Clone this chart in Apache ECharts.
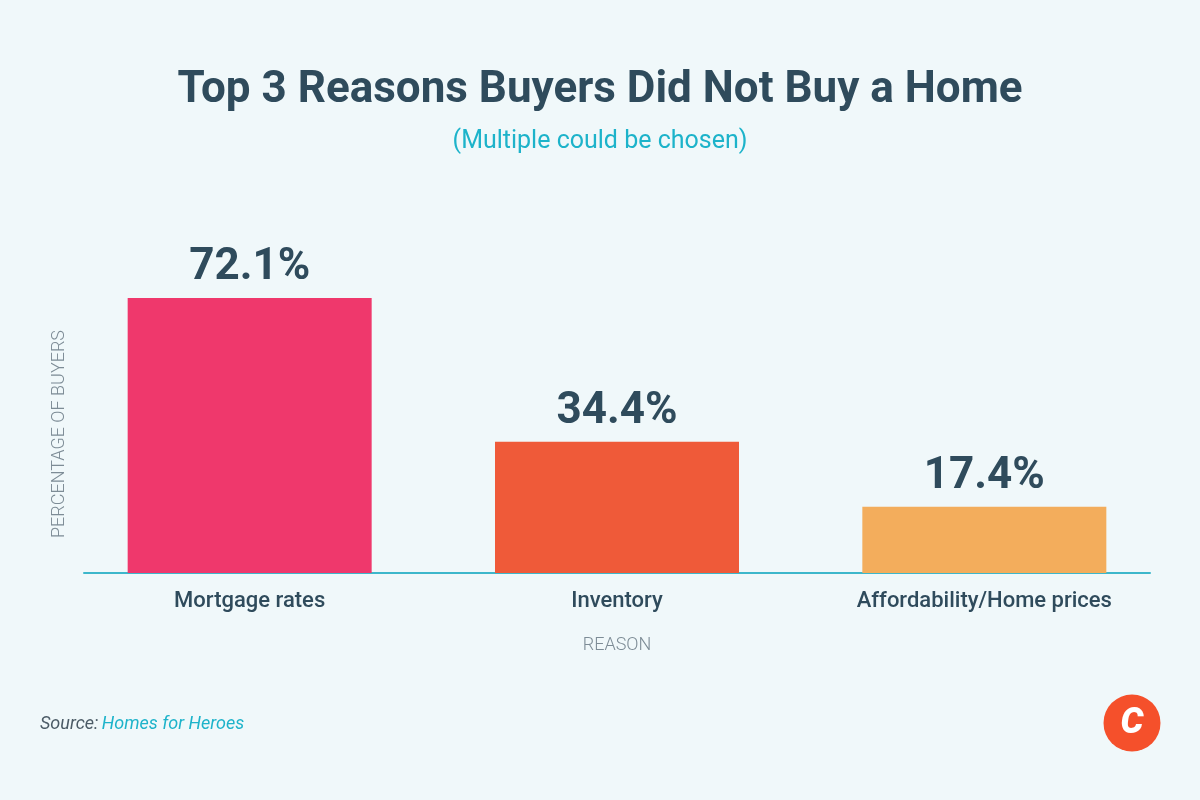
<!DOCTYPE html>
<html>
<head>
<meta charset="utf-8">
<script src="https://cdn.jsdelivr.net/npm/echarts@6/dist/echarts.min.js"></script>
<style>
html,body{margin:0;padding:0;background:#f0f8fa;}
#chart{width:1200px;height:800px;}
</style>
</head>
<body>
<div id="chart"></div>
<script>
const categories = ['Mortgage rates', 'Inventory', 'Affordability/Home prices'];
const values = [72.1, 34.4, 17.4];
const barColors = ['#ef386c', '#ef5a39', '#f3ad5c'];
const titleText = 'Top 3 Reasons Buyers Did Not Buy a Home';
const subtitleText = '(Multiple could be chosen)';
const yAxisName = 'PERCENTAGE OF BUYERS';
const xAxisName = 'REASON';
const sourceLabel = 'Source:';
const sourceName = 'Homes for Heroes';

const dark = '#2f4b5c';
const teal = '#1db3ca';
const grey = '#7d8c96';
const font = 'Roboto';

const chart = echarts.init(document.getElementById('chart'));
chart.setOption({
  backgroundColor: '#f0f8fa',
  textStyle: { fontFamily: font },
  title: [
    { text: titleText, left: 'center', top: 64,
      textStyle: { fontFamily: font, fontSize: 44, fontWeight: 'bold', color: dark } },
    { text: subtitleText, left: 'center', top: 124,
      textStyle: { fontFamily: font, fontSize: 25, fontWeight: 'normal', color: teal } }
  ],
  grid: [
    { left: 66, right: 32, top: 268, bottom: 227 },
    { left: 84, right: 50, top: 268, bottom: 227 }
  ],
  xAxis: [
    { type: 'category', data: categories, gridIndex: 0,
      axisLine: { show: false }, axisTick: { show: false },
      axisLabel: { margin: 17, fontSize: 22, fontWeight: 500, color: dark, fontFamily: font },
      name: xAxisName, nameLocation: 'middle', nameGap: 63,
      nameTextStyle: { fontSize: 18, fontWeight: 300, color: grey, fontFamily: font } },
    { type: 'value', gridIndex: 1, min: 0, max: 1,
      axisLine: { show: true, onZero: false, lineStyle: { color: '#3db7cb', width: 2 } },
      axisTick: { show: false }, axisLabel: { show: false }, splitLine: { show: false } }
  ],
  yAxis: [
    { type: 'value', gridIndex: 0, min: 0, max: 80, show: false },
    { type: 'value', gridIndex: 1, min: 0, max: 1, show: false }
  ],
  series: [{
    type: 'bar',
    xAxisIndex: 0, yAxisIndex: 0,
    data: values,
    colorBy: 'data',
    color: barColors,
    barWidth: 244,
    label: {
      show: true, position: 'top', distance: 8,
      formatter: p => p.value + '%',
      fontFamily: font, fontSize: 44, fontWeight: 'bold', color: dark
    }
  }],
  graphic: [
    { type: 'text', x: 59, y: 434, rotation: Math.PI / 2,
      style: { text: yAxisName, fontFamily: font, fontSize: 18, fontWeight: 300, fill: grey,
        align: 'center', verticalAlign: 'middle' } },
    { type: 'text', x: 40, y: 724,
      style: { text: '{a|' + sourceLabel + '} {b|' + sourceName + '}',
        verticalAlign: 'middle',
        rich: {
          a: { fontFamily: font, fontSize: 18, fontStyle: 'italic', fill: '#4b5b66', color: '#4b5b66' },
          b: { fontFamily: font, fontSize: 18, fontStyle: 'italic', fill: teal, color: teal }
        } } },
    { type: 'circle', shape: { cx: 1132, cy: 723, r: 28.5 }, style: { fill: '#f5502b' } },
    { type: 'text', x: 1132, y: 724,
      style: { text: 'C', fontFamily: font, fontSize: 36, fontWeight: 900, fontStyle: 'italic',
        fill: '#ffffff', align: 'center', verticalAlign: 'middle' } }
  ]
});
</script>
</body>
</html>
